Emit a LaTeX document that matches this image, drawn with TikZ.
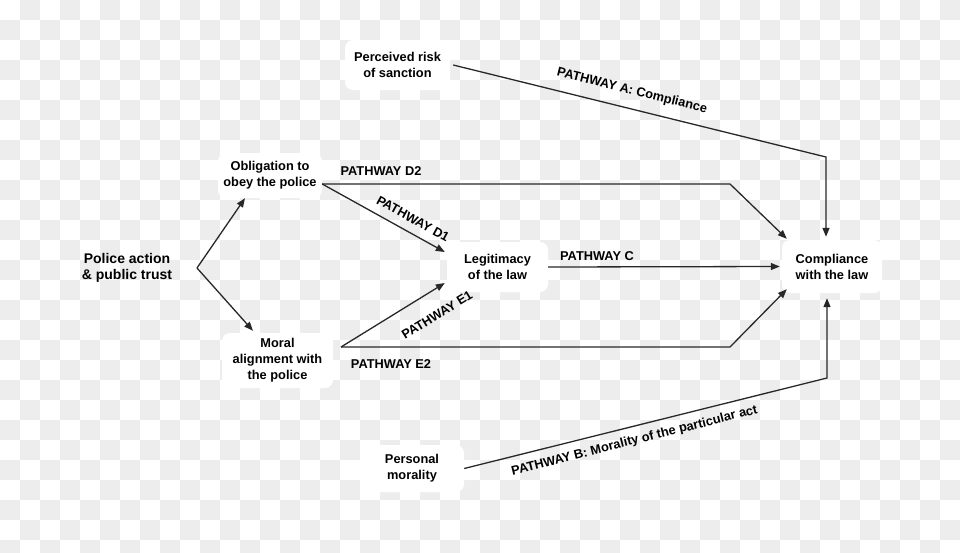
\documentclass[tikz,border=0pt]{standalone}
\usepackage{fontspec}
\setmainfont{Liberation Sans}
\usetikzlibrary{arrows.meta}
\definecolor{chk}{RGB}{237,237,237}
\definecolor{ln}{RGB}{40,40,40}
\tikzset{
  box/.style={fill=white, rounded corners=8pt, inner sep=0pt, align=center,
    font=\fontsize{12.8}{16}\selectfont\bfseries},
  plain/.style={inner sep=0pt, align=center, font=\fontsize{14}{16.5}\selectfont\bfseries},
  lab/.style={inner sep=0pt, font=\fontsize{12.8}{15}\selectfont\bfseries},
  arr/.style={draw=ln, line width=1.3pt, -{Triangle[length=9pt,width=7pt]}},
  ln/.style={draw=ln, line width=1.3pt}
}
\begin{document}
\begin{tikzpicture}[x=1pt,y=-1pt]
\useasboundingbox (0,0) rectangle (960,552);
\fill[white] (0,0) rectangle (960,552);
\foreach \i in {0,...,47}{
  \foreach \j in {0,...,27}{
    \pgfmathtruncatemacro\k{mod(\i+\j,2)}
    \ifnum\k=1
      \fill[chk] (\i*20,\j*20) rectangle ++(20,20);
    \fi
  }
}
% nodes
\node[box, minimum width=105pt, minimum height=50pt] (risk) at (397.5,65) {Perceived risk\\of sanction};
\node[box, minimum width=104pt, minimum height=45pt] (oblig) at (270,175.5) {Obligation to\\obey the police};
\node[plain] (police) at (127,268) {Police action\\\& public trust};
\node[box, minimum width=111pt, minimum height=55pt] (moral) at (277.5,360.5) {Moral\\alignment with\\the police};
\node[box, minimum width=101pt, minimum height=50pt] (legit) at (497.5,267) {Legitimacy\\of the law};
\node[box, minimum width=100pt, minimum height=53pt] (compl) at (832,266.5) {Compliance\\with the law};
\node[box, minimum width=104pt, minimum height=47pt] (personal) at (412,468.5) {Personal\\morality};
% coordinates
\coordinate (pv) at (197,268);
\coordinate (cA) at (826,157);
\coordinate (cD) at (730,184);
\coordinate (cE) at (730,347);
\coordinate (cB) at (827,378);
\coordinate (oD) at ([yshift=-8.5pt]oblig.east);
\coordinate (mE) at (341,347);
% connectors
\draw[arr] (pv) -- ([xshift=-25pt]oblig.south);
\draw[arr] (pv) -- ([xshift=-24.5pt,yshift=2pt]moral.north);
\draw[arr] ([xshift=3pt]risk.east) -- (cA) -- ([yshift=3pt]cA |- compl.north);
\draw[arr] (oD) -- (cD) -- ([xshift=5pt,yshift=1pt]compl.north west);
\draw[arr] (oD) -- ([xshift=-2pt,yshift=15pt]legit.west);
\draw[arr] (mE) -- ([xshift=-2pt,yshift=-16pt]legit.west);
\draw[arr] (mE) -- (cE) -- ([xshift=5pt,yshift=4pt]compl.south west);
\draw[arr] (legit.east) -- ([xshift=-2pt]compl.west);
\draw[arr] (personal.east) -- (cB) -- ([yshift=-5pt]cB |- compl.south);
% labels
\node[lab, rotate=-14] (la) at (632,91) {PATHWAY A: Compliance};
\node[lab] (ld2) at (381,171) {PATHWAY D2};
\node[lab, rotate=-29] (ld1) at (413,219) {PATHWAY D1};
\node[lab, rotate=31.6] (le1) at (437,315) {PATHWAY E1};
\node[lab] (le2) at (391,364) {PATHWAY E2};
\node[lab] (lc) at (597,256) {PATHWAY C};
\node[lab, rotate=14.1] (lb) at (634.5,441) {PATHWAY B: Morality of the particular act};
\end{tikzpicture}
\end{document}
